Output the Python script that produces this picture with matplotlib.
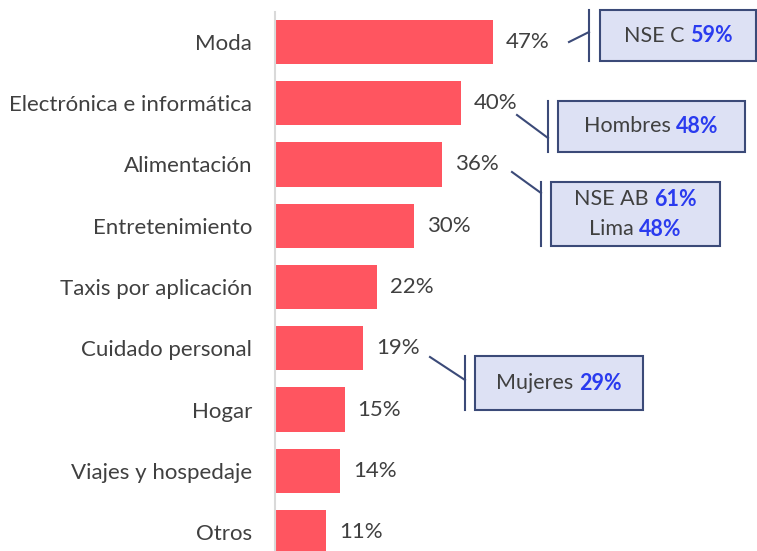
import matplotlib
matplotlib.use("Agg")
import matplotlib.pyplot as plt
from matplotlib.patches import Rectangle
from matplotlib.lines import Line2D

categories = ["Moda", "Electrónica e informática", "Alimentación", "Entretenimiento",
              "Taxis por aplicación", "Cuidado personal", "Hogar", "Viajes y hospedaje", "Otros"]
values = [47, 40, 36, 30, 22, 19, 15, 14, 11]

callout_texts = [
    [("NSE C ", "59%")],
    [("Hombres ", "48%")],
    [("NSE AB ", "61%"), ("Lima ", "48%")],
    [("Mujeres ", "29%")],
]

W, H = 757, 551
plt.rcParams['font.family'] = ['Lato', 'DejaVu Sans']
fig = plt.figure(figsize=(W / 100, H / 100), dpi=100)
fig.patch.set_facecolor("white")

TXT = "#404040"
BAR = "#ff5560"
BLUE = "#2a3bef"
EDGE = "#3b4a78"
FILL = "#dde1f4"
FS = 16
BFS = 15.5

ax_left, ax_right, ax_top, ax_bot = 275, 757, 12, 551
ax = fig.add_axes([ax_left / W, 1 - ax_bot / H, (ax_right - ax_left) / W, (ax_bot - ax_top) / H])
px_per_pct = (493 - 275) / 47.0
ax.set_xlim(0, (ax_right - ax_left) / px_per_pct)
pitch = (532 - 42) / 8.0
ax.set_ylim(8 + (551 - 532) / pitch, -(42 - 12) / pitch)

ypos = list(range(len(categories)))
ax.barh(ypos, values, height=0.72, color=BAR, edgecolor="none")
for y, v in zip(ypos, values):
    ax.text(v + 13 / px_per_pct, y, f"{v}%", va="center", ha="left", fontsize=FS, color=TXT)

ax.set_yticks(ypos)
ax.set_yticklabels(categories, fontsize=FS, color=TXT)
ax.tick_params(axis="y", length=0, pad=16.5)
ax.set_xticks([])
for s in ["top", "right", "bottom"]:
    ax.spines[s].set_visible(False)
ax.spines["left"].set_color("#d9d9d9")
ax.spines["left"].set_linewidth(1.5)

def fx(x):
    return x / W

def fy(y):
    return 1 - y / H

boxes = [
    (600, 10, 756, 61, 589, (569, 42), 32),
    (558, 101, 745, 152, 548, (517, 115), 138),
    (551, 182, 720, 246, 541, (512, 172), 193),
    (475, 356, 643, 410, 465, (430, 357), 380),
]

renderer = fig.canvas.get_renderer()
for (x0, y0, x1, y1, bx, (dx, dy), ey), lines in zip(boxes, callout_texts):
    fig.add_artist(Rectangle((fx(x0), fy(y1)), fx(x1 - x0), (y1 - y0) / H,
                             transform=fig.transFigure, facecolor=FILL, edgecolor=EDGE, linewidth=1.5))
    fig.add_artist(Line2D([fx(bx), fx(bx)], [fy(y0), fy(y1)], transform=fig.transFigure,
                          color=EDGE, linewidth=1.5))
    fig.add_artist(Line2D([fx(dx), fx(bx)], [fy(dy), fy(ey)], transform=fig.transFigure,
                          color=EDGE, linewidth=1.5))
    n = len(lines)
    cx = (x0 + x1) / 2
    lh = 30
    cy0 = (y0 + y1) / 2 - (n - 1) * lh / 2
    for i, (plain, bold) in enumerate(lines):
        cy = cy0 + i * lh
        t1 = fig.text(0, fy(cy), plain, fontsize=BFS, color=TXT, va="center", ha="left")
        t2 = fig.text(0, fy(cy), bold, fontsize=BFS, color=BLUE, fontweight="bold", va="center", ha="left")
        w1 = t1.get_window_extent(renderer).width
        w2 = t2.get_window_extent(renderer).width
        start = cx - (w1 + w2) / 2
        t1.set_x(fx(start))
        t2.set_x(fx(start + w1))

fig.savefig("out.png", dpi=100, facecolor="white")
